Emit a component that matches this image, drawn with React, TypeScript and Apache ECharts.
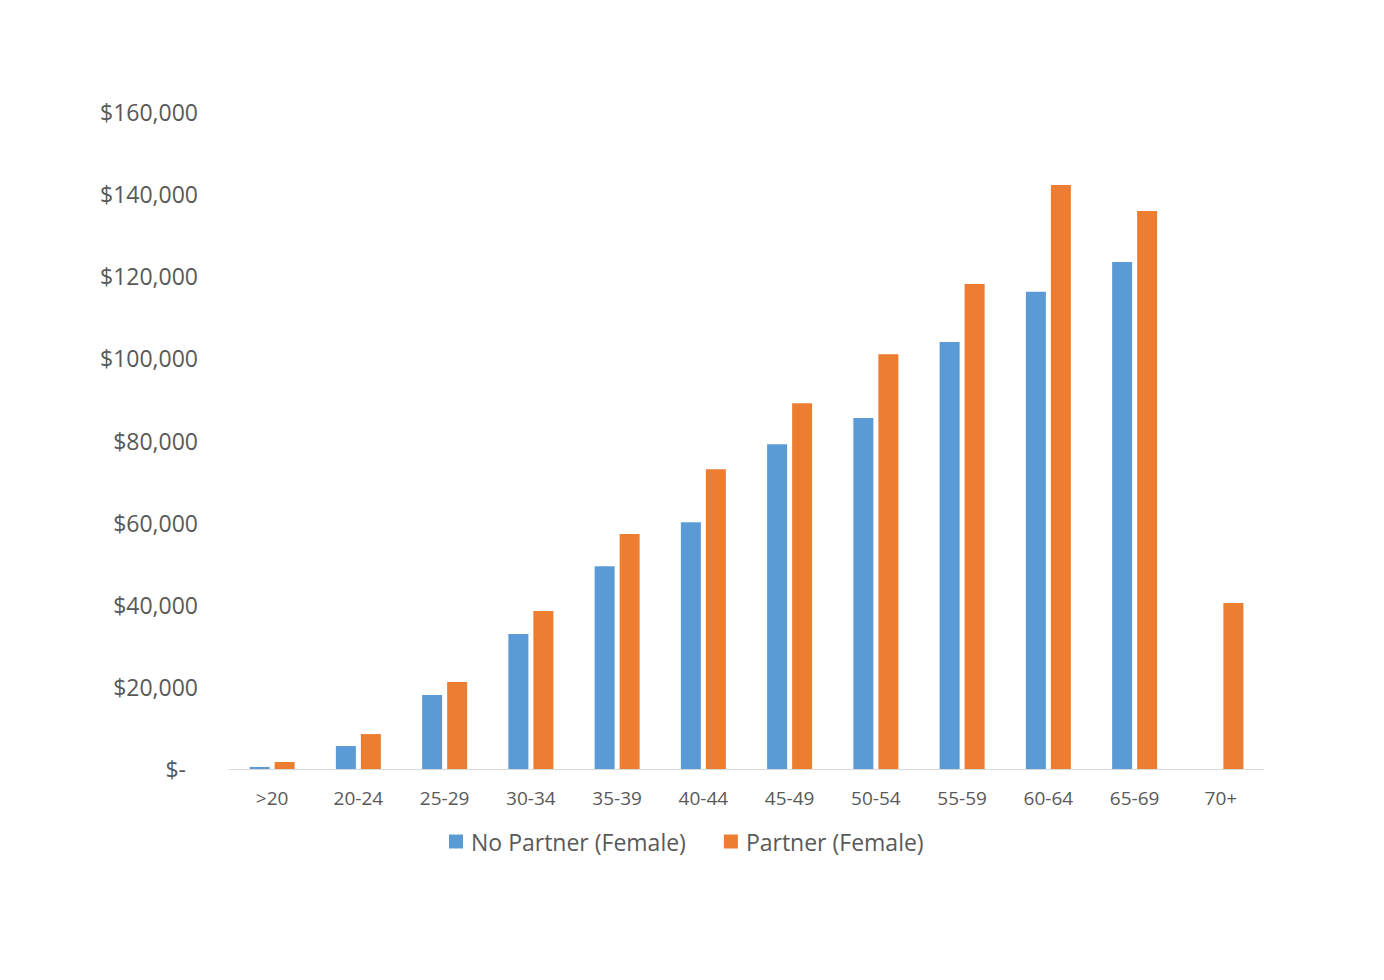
import React, { useEffect, useRef } from "react";
import * as echarts from "echarts";

const categories = [">20", "20-24", "25-29", "30-34", "35-39", "40-44", "45-49", "50-54", "55-59", "60-64", "65-69", "70+"];
const noPartner = [500, 5600, 18000, 32900, 49400, 60100, 79100, 85500, 104000, 116200, 123500, 0];
const partner = [1700, 8500, 21200, 38500, 57200, 73000, 89100, 101000, 118100, 142200, 135900, 40400];
const seriesNames = ["No Partner (Female)", "Partner (Female)"];

export default function App() {
  const ref = useRef<HTMLDivElement>(null);
  useEffect(() => {
    const chart = echarts.init(ref.current!, null, { renderer: "svg" });
    const font = "'Open Sans', 'Liberation Sans', sans-serif";
    chart.setOption({
      animation: false,
      color: ["#5B9BD5", "#ED7D31"],
      textStyle: { fontFamily: font },
      grid: { left: 229, right: 120, top: 112, bottom: 211, containLabel: false },
      legend: {
        left: 449,
        top: 830,
        padding: 0,
        itemWidth: 14,
        itemHeight: 14,
        itemGap: 38,
        icon: "rect",
        textStyle: { color: "#595959", fontSize: 23, fontFamily: font, padding: [0, 0, 0, 3] },
        data: seriesNames,
      },
      xAxis: {
        type: "category",
        data: categories,
        axisLine: { lineStyle: { color: "#D9D9D9", width: 1 } },
        axisTick: { show: false },
        axisLabel: { color: "#595959", fontSize: 19, margin: 19, fontFamily: font },
      },
      yAxis: {
        type: "value",
        min: 0,
        max: 160000,
        interval: 20000,
        splitLine: { show: false },
        axisLine: { show: false },
        axisTick: { show: false },
        axisLabel: {
          color: "#595959",
          fontSize: 23,
          margin: 31,
          fontFamily: font,
          formatter: (v: number) =>
            v === 0 ? "{z|$-}" : "$" + v.toLocaleString("en-US"),
          rich: { z: { color: "#595959", fontSize: 23, fontFamily: font, padding: [0, 12, 0, 0] } },
        },
      },
      series: [
        { name: seriesNames[0], type: "bar", data: noPartner, barWidth: 20, barGap: "25%" },
        { name: seriesNames[1], type: "bar", data: partner, barWidth: 20, barGap: "25%" },
      ],
    });
    return () => chart.dispose();
  }, []);
  return <div ref={ref} style={{ position: "fixed", left: 0, top: 0, width: 1384, height: 980, background: "#fff" }} />;
}
